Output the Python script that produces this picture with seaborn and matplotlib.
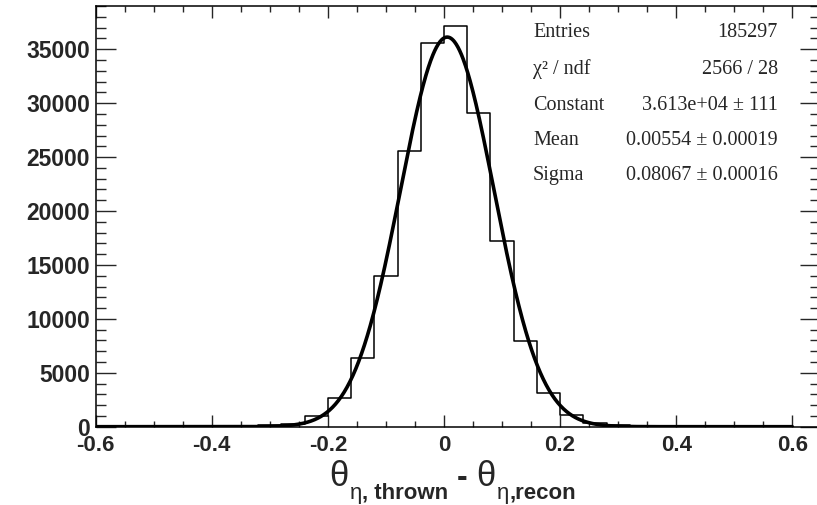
import numpy as np
import pandas as pd
import matplotlib
matplotlib.use("Agg")
import matplotlib.pyplot as plt
import seaborn as sns
from matplotlib.ticker import MultipleLocator

# ---- data ----
bin_edges = [round(-0.6 + 0.04 * i, 4) for i in range(31)]
bin_centers = [round(-0.58 + 0.04 * i, 4) for i in range(30)]
counts = [0, 0, 0, 0, 0, 10, 30, 130, 280, 990, 2630, 6400, 13980, 25600, 35600,
          37200, 29100, 17200, 7950, 3150, 1100, 370, 125, 30, 10, 0, 0, 0, 0, 0]

stat_labels = ["Entries", "\u03c7\u00b2 / ndf", "Constant", "Mean", "Sigma"]
stat_values = ["185297", "2566 / 28", "3.613e+04 \u00b1 111",
               "0.00554 \u00b1 0.00019", "0.08067 \u00b1 0.00016"]
fit_constant = 3.613e4
fit_mean = 0.00554
fit_sigma = 0.08067

x_ticks = [-0.6, -0.4, -0.2, 0, 0.2, 0.4, 0.6]
x_tick_labels = ["-0.6", "-0.4", "-0.2", "0", "0.2", "0.4", "0.6"]
y_ticks = [0, 5000, 10000, 15000, 20000, 25000, 30000, 35000]

df = pd.DataFrame({"x": bin_centers, "w": counts})
xf = np.linspace(-0.6, 0.6, 1201)
fit_df = pd.DataFrame({"x": xf,
                       "y": fit_constant * np.exp(-0.5 * ((xf - fit_mean) / fit_sigma) ** 2)})

sns.set_style("white")
plt.rcParams["font.family"] = ["Liberation Sans", "DejaVu Sans"]

W, H = 817, 505
fig = plt.figure(figsize=(W / 100, H / 100), dpi=100)
left_px, right_px, top_px, bot_px = 95.7, 819.5, 5.5, 426.7
ax = fig.add_axes([left_px / W, 1 - bot_px / H, (right_px - left_px) / W, (bot_px - top_px) / H])

sns.histplot(data=df, x="x", weights="w", bins=bin_edges, element="step", fill=False,
             color="black", linewidth=1.1, ax=ax)
sns.lineplot(data=fit_df, x="x", y="y", color="black", linewidth=2.6, ax=ax)

xmax = -0.6 + (right_px - left_px) / 580.5
ax.set_xlim(-0.6, xmax)
ax.set_ylim(0, 1.05 * max(counts))
ax.set_xlabel("")
ax.set_ylabel("")

for s in ax.spines.values():
    s.set_linewidth(1.1)
    s.set_color("black")

ax.set_xticks(x_ticks)
ax.set_xticklabels(x_tick_labels)
ax.set_yticks(y_ticks)
ax.set_yticklabels([str(v) for v in y_ticks])
ax.xaxis.set_minor_locator(MultipleLocator(0.05))
ax.yaxis.set_minor_locator(MultipleLocator(1000))
ax.tick_params(axis="x", which="major", direction="in", length=8.6, width=1.0,
               top=True, bottom=True, pad=6, labelsize=16)
ax.tick_params(axis="x", which="minor", direction="in", length=4.3, width=1.0,
               top=True, bottom=True)
ax.tick_params(axis="y", which="major", direction="in", length=14.4, width=1.0,
               left=True, right=True, pad=4, labelsize=16.5)
ax.tick_params(axis="y", which="minor", direction="in", length=7.2, width=1.0,
               left=True, right=True)
for lab in ax.get_xticklabels() + ax.get_yticklabels():
    lab.set_fontweight("bold")

# stats box
baselines = [37, 74, 110, 145, 180]
for lab, val, yb in zip(stat_labels, stat_values, baselines):
    fig.text(533 / W, 1 - yb / H, lab, ha="left", va="baseline",
             fontfamily="Liberation Serif", fontsize=14.5)
    fig.text(778 / W, 1 - yb / H, val, ha="right", va="baseline",
             fontfamily="Liberation Serif", fontsize=14.5)

# x axis title, composed from pieces (ROOT-style subscripts)
renderer = fig.canvas.get_renderer()
pieces = [  # text, size, weight, baseline_px, gap_before_px
    ("\u03b8", 25, "normal", 486, 0),
    ("\u03b7", 16, "normal", 499, 1),
    (", thrown", 16, "bold", 499, 0),
    ("-", 23, "bold", 486, 9),
    ("\u03b8", 25, "normal", 486, 9),
    ("\u03b7", 16, "normal", 499, 1),
    (",recon", 16, "bold", 499, 0),
]
objs = []
x = 0.0
for txt, size, weight, yb, gap in pieces:
    x += gap
    t = fig.text(x / W, 1 - yb / H, txt, ha="left", va="baseline",
                 fontsize=size, fontweight=weight)
    w = t.get_window_extent(renderer).width
    objs.append((t, x, yb))
    x += w
total = x
x0 = 452.5 - total / 2
for t, xo, yb in objs:
    t.set_position(((x0 + xo) / W, 1 - yb / H))

fig.savefig("out.png", dpi=100)
